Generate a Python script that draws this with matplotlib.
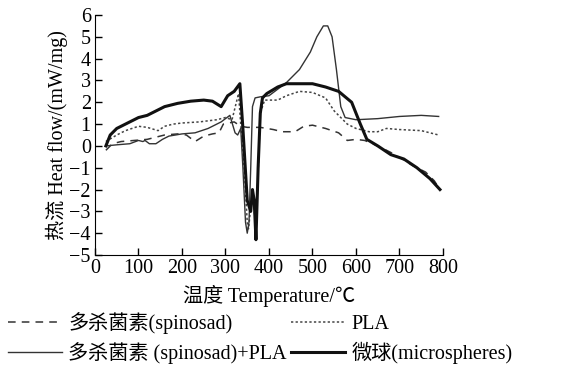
import matplotlib
matplotlib.use('Agg')
import matplotlib.pyplot as plt

plt.rcParams['font.family'] = ['Liberation Serif', 'Noto Sans CJK SC']

# spinosad (dashed)
spin_t = [25, 40, 60, 90, 120, 140, 160, 190, 210, 230, 250, 270, 285, 295, 320, 335, 350, 380, 410, 430,
          460, 480, 500, 530, 560, 580, 600, 620, 650, 680, 710, 730, 760, 780, 793]
spin_v = [-0.2, 0.1, 0.2, 0.25, 0.3, 0.4, 0.5, 0.55, 0.5, 0.2, 0.45, 0.55, 0.6, 1.0, 1.1, 0.9, 0.85, 0.85, 0.75, 0.65,
          0.65, 0.9, 0.95, 0.8, 0.6, 0.25, 0.3, 0.25, 0.0, -0.3, -0.65, -0.9, -1.2, -1.6, -2.0]

# PLA (dotted)
pla_t = [25, 50, 70, 100, 120, 145, 160, 180, 200, 240, 280, 300, 315, 330, 335, 343, 350, 353, 362, 370,
         380, 390, 420, 440, 470, 500, 530, 550, 580, 600, 630, 650, 670, 700, 750, 790]
pla_v = [0.2, 0.5, 0.7, 0.9, 0.85, 0.7, 0.9, 1.0, 1.05, 1.1, 1.2, 1.3, 1.2, 2.4, 1.0, -1.0, -3.5, -3.8, -2.0, -3.9,
         1.5, 2.1, 2.1, 2.3, 2.5, 2.45, 2.2, 1.6, 1.0, 0.8, 0.65, 0.65, 0.8, 0.75, 0.7, 0.5]

# spinosad + PLA (thin solid)
mix_t = [25, 50, 80, 100, 110, 115, 125, 140, 155, 170, 200, 230, 260, 290, 310, 322, 328, 335, 340, 346,
         350, 354, 358, 362, 368, 380, 400, 420, 440, 470, 495, 510, 525, 535, 545, 555, 565, 575, 600,
         650, 700, 750, 790]
mix_v = [0.0, 0.05, 0.1, 0.25, 0.2, 0.25, 0.1, 0.1, 0.3, 0.45, 0.55, 0.6, 0.8, 1.1, 1.4, 0.6, 0.5, 0.8, -1.0, -3.5,
         -4.0, -3.5, -1.0, 1.8, 2.2, 2.25, 2.3, 2.6, 2.9, 3.5, 4.3, 5.0, 5.5, 5.5, 5.0, 3.5, 1.8, 1.3, 1.2,
         1.25, 1.35, 1.4, 1.35]

# microspheres (thick solid)
micro_t = [25, 35, 50, 70, 100, 120, 140, 160, 190, 220, 250, 270, 290, 305, 320, 333, 340, 350, 358, 362,
           366, 370, 375, 380, 385, 395, 420, 440, 500, 530, 560, 590, 610, 625, 650, 680, 710, 740,
           770, 793]
micro_v = [0.0, 0.5, 0.8, 1.0, 1.3, 1.4, 1.6, 1.8, 1.95, 2.05, 2.1, 2.05, 1.8, 2.3, 2.5, 2.85, 0.8, -2.5, -3.0, -2.0,
           -2.5, -4.3, -1.0, 1.5, 2.2, 2.4, 2.7, 2.85, 2.85, 2.7, 2.5, 2.0, 1.0, 0.3, 0.0, -0.4, -0.6, -1.0,
           -1.5, -2.0]

x_ticks = [0, 100, 200, 300, 400, 500, 600, 700, 800]
y_ticks = [-5, -4, -3, -2, -1, 0, 1, 2, 3, 4, 5, 6]

fig = plt.figure(figsize=(5.63, 3.82), dpi=100)
ax = fig.add_axes([95 / 563, 1 - 255 / 382, 348 / 563, 240 / 382])

l_spin, = ax.plot(spin_t, spin_v, color='#333333', lw=1.1, ls=(0, (5, 4)))
l_pla, = ax.plot(pla_t, pla_v, color='#444444', lw=1.1, ls=(0, (1.5, 1.5)))
l_mix, = ax.plot(mix_t, mix_v, color='#333333', lw=1.0)
l_micro, = ax.plot(micro_t, micro_v, color='#111111', lw=2.2)

ax.set_xlim(0, 800)
ax.set_ylim(-5, 6)
ax.set_xticks(x_ticks)
ax.set_yticks(y_ticks)
ax.set_yticklabels([str(v).replace('-', '\u2212') for v in y_ticks])
ax.spines['top'].set_visible(False)
ax.spines['right'].set_visible(False)
ax.tick_params(direction='in', length=5, labelsize=14.5, width=1, pad=3)
ax.set_xlabel('温度 Temperature/℃', fontsize=14.5, labelpad=5)
ax.set_ylabel('热流 Heat flow/(mW/mg)', fontsize=14.5, labelpad=1)

# ncol=2 fills column-wise, so order handles to get rows: spinosad | PLA, mix | microspheres
handles = [l_spin, l_mix, l_pla, l_micro]
labels = ['多杀菌素(spinosad)', '多杀菌素 (spinosad)+PLA', 'PLA', '微球(microspheres)']
fig.legend(handles, labels, loc='upper left', bbox_to_anchor=(8 / 563, 1 - 312 / 382), ncol=2,
           frameon=False, fontsize=14.5, handlelength=2.7, handletextpad=0.3, columnspacing=0.2,
           labelspacing=0.4, borderpad=0, borderaxespad=0)

fig.savefig('out.png', dpi=100)
